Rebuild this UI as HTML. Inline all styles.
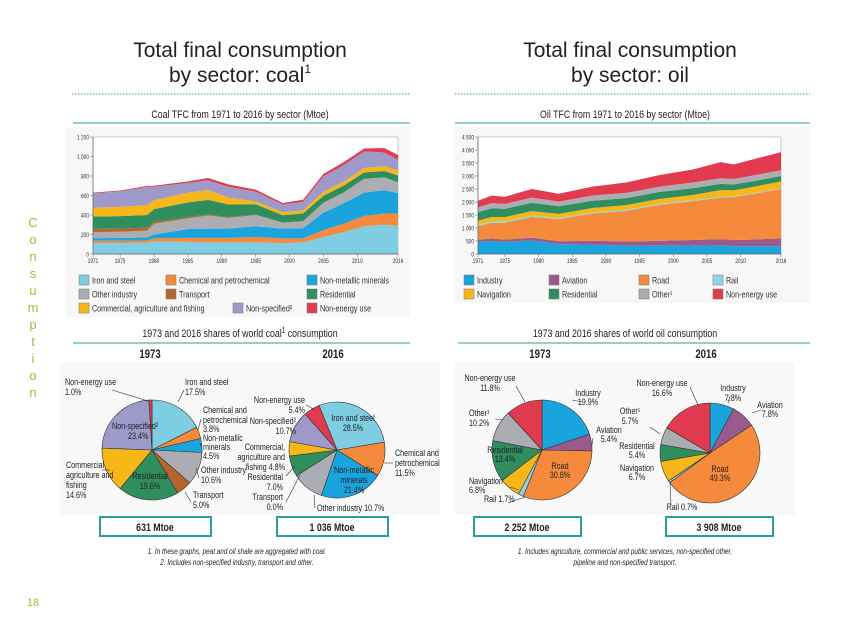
<!DOCTYPE html>
<html><head><meta charset="utf-8">
<style>
html,body{margin:0;padding:0;background:#fff;}
body{width:866px;height:630px;overflow:hidden;font-family:"Liberation Sans",sans-serif;}
svg text{font-family:"Liberation Sans",sans-serif;}
</style></head>
<body>
<svg id="s" width="866" height="630" viewBox="0 0 866 630" xmlns="http://www.w3.org/2000/svg">
<g font-size="13" fill="#8cc63f" text-anchor="middle">
<text class="wide" x="33" y="227">C</text><text class="wide" x="33" y="244">o</text><text class="wide" x="33" y="261">n</text><text class="wide" x="33" y="278">s</text><text class="wide" x="33" y="295">u</text><text class="wide" x="33" y="312">m</text><text class="wide" x="33" y="329">p</text><text class="wide" x="33" y="346">t</text><text class="wide" x="33" y="363">i</text><text class="wide" x="33" y="380">o</text><text class="wide" x="33" y="397">n</text>
</g>
<text class="wide" x="33" y="606" font-size="11" fill="#8cc63f" text-anchor="middle">18</text>

<g font-size="21" fill="#222" text-anchor="middle">
<text class="wide" x="240" y="57">Total final consumption</text>
<text class="wide" x="240" y="82">by sector: coal<tspan font-size="12" dy="-9">1</tspan></text>
<text class="wide" x="630" y="57">Total final consumption</text>
<text class="wide" x="630" y="82">by sector: oil</text>
</g>
<line x1="72" y1="94" x2="410" y2="94" stroke="#2a9d9d" stroke-dasharray="1.5,1.5"/>
<line x1="455" y1="94" x2="810" y2="94" stroke="#2a9d9d" stroke-dasharray="1.5,1.5"/>
<text x="240" y="118" font-size="11" text-anchor="middle" fill="#222">Coal TFC from 1971 to 2016 by sector (Mtoe)</text>
<text x="625" y="118" font-size="11" text-anchor="middle" fill="#222">Oil TFC from 1971 to 2016 by sector (Mtoe)</text>
<line x1="73" y1="123" x2="410" y2="123" stroke="#2a9d9d"/>
<line x1="455" y1="123" x2="810" y2="123" stroke="#2a9d9d"/>

<rect x="66" y="127" width="344" height="190" fill="#f7f7f7"/>
<rect x="455" y="127" width="355" height="176" fill="#f7f7f7"/>
<g id="coalChart"></g>
<g id="oilChart"></g>
<g id="coalLegend"></g>
<g id="oilLegend"></g>

<text x="240" y="337" font-size="11" text-anchor="middle" fill="#222">1973 and 2016 shares of world coal<tspan font-size="8" dy="-4">1</tspan><tspan dy="4"> consumption</tspan></text>
<text x="625" y="337" font-size="11" text-anchor="middle" fill="#222">1973 and 2016 shares of world oil consumption</text>
<line x1="73" y1="343" x2="410" y2="343" stroke="#2a9d9d"/>
<line x1="458" y1="343" x2="810" y2="343" stroke="#2a9d9d"/>
<g font-size="12" font-weight="bold" text-anchor="middle" fill="#222">
<text x="150" y="358">1973</text>
<text x="333" y="358">2016</text>
<text x="540" y="358">1973</text>
<text x="706" y="358">2016</text>
</g>
<rect x="60" y="362" width="380" height="153" fill="#f8f8f8"/>
<rect x="455" y="362" width="340" height="153" fill="#f8f8f8"/>
<g id="pies"></g>
<g id="leaders" stroke="#333" stroke-width="0.6" fill="none">
<polyline points="112,390 148,401"/>
<polyline points="184,390 178,402"/>
<polyline points="201,419 198,430"/>
<polyline points="201,446 200,443"/>
<polyline points="199,478 196,468"/>
<polyline points="191,502 185,492"/>
<polyline points="102,470 110,470"/>
<polyline points="306,405 315,410"/>
<polyline points="286,476 295,466"/>
<polyline points="286,502 300,475"/>
<polyline points="315,508 314,495"/>
<polyline points="393,463 384,463"/>
<polyline points="516,386 525,402"/>
<polyline points="572,400 582,402"/>
<polyline points="593,438 592,445"/>
<polyline points="510,487 519,490"/>
<polyline points="508,503 525,497"/>
<polyline points="495,419 503,420"/>
<polyline points="690,387 698,405"/>
<polyline points="730,396 728,403"/>
<polyline points="761,410 752,413"/>
<polyline points="650,427 660,434"/>
<polyline points="671,505 670,482"/>
</g>
<g id="pieLabels" font-size="9" fill="#222"></g>

<g stroke="#2a9d9d" stroke-width="2" fill="#fff">
<rect x="100" y="517" width="111" height="19"/>
<rect x="277" y="517" width="111" height="19"/>
<rect x="474" y="517" width="107" height="19"/>
<rect x="666" y="517" width="107" height="19"/>
</g>
<g font-size="11" font-weight="bold" text-anchor="middle" fill="#222">
<text x="155" y="531">631 Mtoe</text>
<text x="332" y="531">1 036 Mtoe</text>
<text x="527" y="531">2 252 Mtoe</text>
<text x="719" y="531">3 908 Mtoe</text>
</g>
<g font-size="8" font-style="italic" text-anchor="middle" fill="#222">
<text x="237" y="554">1. In these graphs, peat and oil shale are aggregated with coal.</text>
<text x="237" y="565">2. Includes non-specified industry, transport and other.</text>
<text x="625" y="554">1. Includes agriculture, commercial and public services, non-specified other,</text>
<text x="625" y="565">pipeline and non-specified transport.</text>
</g>
</svg>
<script>
// ---- Coal data ----
const coalYears=[1971,1975,1979,1980,1985,1988,1991,1995,1999,2002,2005,2008,2011,2014,2016];
const coalNames=["Iron and steel","Chemical and petrochemical","Non-metallic minerals","Other industry","Transport","Residential","Commercial, agriculture and fishing","Non-specified","Non-energy use"];
const coalIron=[112,112,115,130,125,120,120,120,110,120,175,225,285,300,290];
const coalChem=[24,24,25,30,40,45,45,55,50,40,70,85,105,115,125];
const coalNonmet=[27,28,30,40,90,95,95,110,100,105,180,210,240,240,210];
const coalOther=[61,64,70,110,110,135,110,115,60,70,100,110,140,130,110];
const coalTransport=[34,32,30,20,15,10,8,5,3,2,2,2,2,1,0];
const coalResid=[126,128,130,130,150,150,130,105,75,80,70,70,65,65,70];
const coalComm=[92,95,100,90,100,100,70,30,30,30,40,40,45,50,50];
const coalNonspec=[146,160,190,140,100,100,110,100,80,90,160,170,170,140,110];
const coalNonEnergy=[7,8,10,10,15,25,25,20,15,20,25,30,30,45,50];
const coalTicks=[0,200,400,600,800,1000,1200];
const coalTickLabels=["0","200","400","600","800","1 000","1 200"];
// ---- Oil data ----
const oilYears=[1971,1973,1975,1979,1983,1988,1993,1998,2003,2007,2009,2011,2016];
const oilNames=["Industry","Aviation","Road","Rail","Navigation","Residential","Other\u00b9","Non-energy use"];
const oilIndustry=[460,500,460,520,380,360,320,320,320,330,300,300,300];
const oilAviation=[90,95,95,110,110,150,160,190,220,240,240,250,300];
const oilRoad=[520,600,650,800,850,1050,1180,1380,1500,1600,1650,1720,1900];
const oilRail=[60,60,55,50,45,40,40,40,35,35,30,30,30];
const oilNav=[150,170,160,170,160,170,180,190,200,250,230,240,260];
const oilResid=[330,330,320,320,290,280,270,270,260,240,230,220,210];
const oilOther=[180,200,190,200,180,200,200,200,220,220,210,220,220];
const oilNonEnergy=[260,290,270,330,300,340,400,450,500,620,550,600,700];
const oilTicks=[0,500,1000,1500,2000,2500,3000,3500,4000,4500];
const oilTickLabels=["0","500","1 000","1 500","2 000","2 500","3 000","3 500","4 000","4 500"];
const xTickYears=[1971,1975,1980,1985,1990,1995,2000,2005,2010,2016];
// ---- Pie data ----
const coal1973=[17.5,3.8,4.5,10.6,5.0,19.6,14.6,23.4,1.0];
const coal2016=[28.5,11.5,21.4,10.7,0.0,7.0,4.8,10.7,5.4];
const oil1973=[19.9,5.4,30.8,1.7,6.8,13.4,10.2,11.8];
const oil2016=[7.8,7.8,49.3,0.7,6.7,5.4,5.7,16.6];

const coalColors=["#7fcde3","#f58a3c","#1aa4dd","#abadb2","#b5662c","#2f8d5e","#f7b719","#9d99c9","#e23a4e"];
const oilColors=["#1aa4dd","#9b5a8c","#f58a3c","#8fd3e6","#f7b719","#2f8d5e","#abadb2","#e23a4e"];
const NS="http://www.w3.org/2000/svg";
function mk(tag,attrs,parent){const e=document.createElementNS(NS,tag);for(const k in attrs)e.setAttribute(k,attrs[k]);parent.appendChild(e);return e;}

function areaChart(g,years,series,colors,names,ticks,tickLabels,ymax,x0,x1,y0,y1,prefix){
  const xs=v=>x0+(v-1971)/(2016-1971)*(x1-x0);
  const ys=v=>y0-(v/ymax)*(y0-y1);
  const bg=mk('rect',{x:x0,y:y1,width:x1-x0,height:y0-y1,fill:'#fff',stroke:'#999','stroke-width':0.5},g);
  
  
  let base=years.map(()=>0);
  series.forEach((s,i)=>{
    const top=base.map((b,j)=>b+s[j]);
    let d='M'+years.map((y,j)=>xs(y)+','+ys(top[j])).join(' L');
    for(let j=years.length-1;j>=0;j--) d+=' L'+xs(years[j])+','+ys(base[j]);
    d+='Z';
    const p=mk('path',{d:d,fill:colors[i]},g);
    
    
    base=top;
  });
  mk('line',{x1:x0,y1:y0,x2:x1,y2:y0,stroke:'#666','stroke-width':0.7},g);
  mk('line',{x1:x0,y1:y0,x2:x0,y2:y1,stroke:'#666','stroke-width':0.7},g);
  ticks.forEach((t,i)=>{
    mk('line',{x1:x0-3,y1:ys(t),x2:x0,y2:ys(t),stroke:'#666','stroke-width':0.5},g);
    const tx=mk('text',{x:x0-4,y:ys(t)+2.5,'font-size':6,'text-anchor':'end',fill:'#333'},g);
    tx.textContent=tickLabels[i];
    
    
  });
  xTickYears.forEach(yr=>{
    mk('line',{x1:xs(yr),y1:y0,x2:xs(yr),y2:y0+3,stroke:'#666','stroke-width':0.5},g);
    const tx=mk('text',{x:xs(yr),y:y0+9,'font-size':6,'text-anchor':'middle',fill:'#333'},g);
    tx.textContent=yr;
    
    
  });
}
areaChart(document.getElementById('coalChart'),coalYears,
  [coalIron,coalChem,coalNonmet,coalOther,coalTransport,coalResid,coalComm,coalNonspec,coalNonEnergy],
  coalColors,coalNames,coalTicks,coalTickLabels,1200,93,398,254,137,'coal');
areaChart(document.getElementById('oilChart'),oilYears,
  [oilIndustry,oilAviation,oilRoad,oilRail,oilNav,oilResid,oilOther,oilNonEnergy],
  oilColors,oilNames,oilTicks,oilTickLabels,4500,478,781,254,137,'oil');

function legend(g,items,colors,pos,prefix){
  items.forEach((n,i)=>{
    const x=pos[i][0],y=pos[i][1];
    const r=mk('rect',{x:x,y:y,width:10,height:10,fill:colors[i],stroke:'#777','stroke-width':0.5},g);
    
    
    const t=mk('text',{x:x+13,y:y+8.5,'font-size':9,fill:'#333'},g);
    t.textContent=n;
    
    
  });
}
legend(document.getElementById('coalLegend'),
  ["Iron and steel","Chemical and petrochemical","Non-metallic minerals","Other industry","Transport","Residential","Commercial, agriculture and fishing","Non-specified\u00b2","Non-energy use"],
  coalColors,[[79,275],[166,275],[307,275],[79,289],[166,289],[307,289],[79,303],[233,303],[307,303]],'coal');
legend(document.getElementById('oilLegend'),
  ["Industry","Aviation","Road","Rail","Navigation","Residential","Other\u00b9","Non-energy use"],
  oilColors,[[464,275],[549,275],[639,275],[713,275],[464,289],[549,289],[639,289],[713,289]],'oil');

function pie(g,vals,colors,cx,cy,r,start,prefix){
  const tot=vals.reduce((a,b)=>a+b,0);
  let a=start*Math.PI/180;
  vals.forEach((v,i)=>{
    const da=v/tot*2*Math.PI;
    if(v<=0){return;}
    const x1=cx+r*Math.sin(a),y1=cy-r*Math.cos(a);
    const x2=cx+r*Math.sin(a+da),y2=cy-r*Math.cos(a+da);
    const p=mk('path',{d:`M${cx},${cy} L${x1},${y1} A${r},${r} 0 ${da>Math.PI?1:0} 1 ${x2},${y2} Z`,fill:colors[i],stroke:'#333','stroke-width':0.6},g);
    
    
    a+=da;
  });
}
const pg=document.getElementById('pies');
pie(pg,coal1973,coalColors,152,450,50,0,'coal-1973');
pie(pg,coal2016,coalColors,337,450,48,-22,'coal-2016');
pie(pg,oil1973,oilColors,542,450,50,0,'oil-1973');
pie(pg,oil2016,oilColors,710,453,50,0,'oil-2016');

const labels=[
 ["Non-energy use",65,385,"start"],["1.0%",65,395,"start"],
 ["Iron and steel",185,385,"start"],["17.5%",185,395,"start"],
 ["Chemical and",203,413,"start"],["petrochemical",203,423,"start"],["3.8%",203,432,"start"],
 ["Non-metallic",203,441,"start"],["minerals",203,450,"start"],["4.5%",203,459,"start"],
 ["Other industry",201,473,"start"],["10.6%",201,483,"start"],
 ["Transport",193,498,"start"],["5.0%",193,508,"start"],
 ["Commercial,",66,468,"start"],["agriculture and",66,478,"start"],["fishing",66,488,"start"],["14.6%",66,498,"start"],
 ["Non-specified\u00b2",112,429,"start"],["23.4%",128,439,"start"],
 ["Residential",150,479,"middle"],["19.6%",150,489,"middle"],
 ["Non-energy use",305,403,"end"],["5.4%",305,413,"end"],
 ["Non-specified\u00b2",296,424,"end"],["10.7%",296,434,"end"],
 ["Commercial,",285,450,"end"],["agriculture and",285,460,"end"],["fishing 4.8%",285,470,"end"],
 ["Residential",283,480,"end"],["7.0%",283,490,"end"],
 ["Transport",283,500,"end"],["0.0%",283,510,"end"],
 ["Other industry 10.7%",317,511,"start"],
 ["Iron and steel",353,421,"middle"],["28.5%",353,431,"middle"],
 ["Non-metallic",354,473,"middle"],["minerals",354,483,"middle"],["21.4%",354,493,"middle"],
 ["Chemical and",395,456,"start"],["petrochemical",395,466,"start"],["11.5%",395,476,"start"],
 ["Non-energy use",490,381,"middle"],["11.8%",490,391,"middle"],
 ["Industry",588,396,"middle"],["19.9%",588,405,"middle"],
 ["Other\u00b9",469,416,"start"],["10.2%",469,426,"start"],
 ["Aviation",609,433,"middle"],["5.4%",609,442,"middle"],
 ["Residential",505,453,"middle"],["13.4%",505,462,"middle"],
 ["Road",560,469,"middle"],["30.8%",560,478,"middle"],
 ["Navigation",469,484,"start"],["6.8%",469,493,"start"],
 ["Rail 1.7%",484,502,"start"],
 ["Non-energy use",662,386,"middle"],["16.6%",662,396,"middle"],
 ["Industry",733,391,"middle"],["7.8%",733,401,"middle"],
 ["Aviation",770,408,"middle"],["7.8%",770,417,"middle"],
 ["Other\u00b9",630,414,"middle"],["5.7%",630,424,"middle"],
 ["Residential",637,449,"middle"],["5.4%",637,458,"middle"],
 ["Navigation",637,471,"middle"],["6.7%",637,480,"middle"],
 ["Road",720,472,"middle"],["49.3%",720,481,"middle"],
 ["Rail 0.7%",682,510,"middle"]
];
const lg=document.getElementById('pieLabels');
labels.forEach(l=>{
  const t=mk('text',{x:l[1],y:l[2],'text-anchor':l[3]},lg);
  t.textContent=l[0];
  
  
});
// condense text to mimic narrow font
document.querySelectorAll('#s text').forEach(t=>{
  if(t.classList.contains('wide')) return;
  const x=parseFloat(t.getAttribute('x'))||0;
  t.setAttribute('transform',`translate(${x},0) scale(0.8,1) translate(${-x},0)`);
});
</script>
</body></html>
